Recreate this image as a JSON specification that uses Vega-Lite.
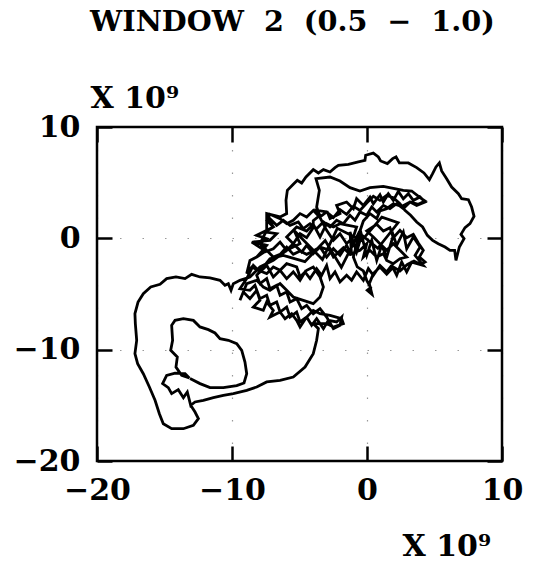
{
  "$schema": "https://vega.github.io/schema/vega-lite/v6.json",
  "width": 405,
  "height": 334,
  "autosize": {"type": "none"},
  "padding": {"left": 97, "top": 127, "right": 32, "bottom": 103},
  "background": "white",
  "title": {
    "text": "WINDOW\u00a0\u00a02\u00a0\u00a0(0.5\u00a0\u00a0\u2212\u00a0\u00a01.0)",
    "anchor": "start",
    "frame": "group",
    "font": "DejaVu Serif",
    "fontSize": 28.7,
    "fontWeight": "bold",
    "color": "black",
    "offset": 46,
    "dx": -7
  },
  "config": {
    "view": {"stroke": "black", "strokeWidth": 2.5},
    "axis": {
      "labelFont": "DejaVu Serif",
      "labelFontSize": 30,
      "labelFontWeight": "bold",
      "labelColor": "black",
      "titleFont": "DejaVu Serif",
      "titleFontSize": 30,
      "titleFontWeight": "bold",
      "titleColor": "black",
      "tickColor": "black",
      "tickWidth": 2.5,
      "tickSize": -15,
      "domain": false,
      "labelFlush": false,
      "labelOverlap": false,
      "labelBound": false
    }
  },
  "data": {
    "values": [
      {"t": 1, "x": -13.11, "y": -12.60}, {"t": 2, "x": -12.37, "y": -13.05}, {"t": 3, "x": -11.63, "y": -13.41}, {"t": 4, "x": -10.64, "y": -13.41}, {"t": 5, "x": -9.65, "y": -13.23}, {"t": 6, "x": -9.11, "y": -12.99}, {"t": 7, "x": -8.91, "y": -12.16}, {"t": 8, "x": -9.04, "y": -11.11}, {"t": 9, "x": -9.28, "y": -10.06}, {"t": 10, "x": -9.65, "y": -9.46},
      {"t": 11, "x": -10.27, "y": -9.16}, {"t": 12, "x": -10.89, "y": -9.01}, {"t": 13, "x": -11.26, "y": -8.50}, {"t": 14, "x": -11.75, "y": -8.20}, {"t": 15, "x": -12.37, "y": -7.96}, {"t": 16, "x": -12.86, "y": -7.37}, {"t": 17, "x": -13.60, "y": -7.22}, {"t": 18, "x": -14.22, "y": -7.37}, {"t": 19, "x": -14.47, "y": -7.81}, {"t": 20, "x": -14.40, "y": -9.16},
      {"t": 21, "x": -14.54, "y": -10.06}, {"t": 22, "x": -14.05, "y": -10.66}, {"t": 23, "x": -14.15, "y": -11.56}, {"t": 24, "x": -13.73, "y": -12.31}, {"t": 25, "x": -13.16, "y": -12.54}, {"t": 26, "x": -13.48, "y": -12.16}, {"t": 27, "x": -14.22, "y": -12.10}, {"t": 28, "x": -14.84, "y": -12.31}, {"t": 29, "x": -15.14, "y": -13.05}, {"t": 30, "x": -14.72, "y": -13.41},
      {"t": 31, "x": -14.47, "y": -13.95}, {"t": 32, "x": -13.98, "y": -13.59}, {"t": 33, "x": -13.60, "y": -14.31}, {"t": 34, "x": -13.31, "y": -13.80}, {"t": 35, "x": -13.06, "y": -15.00},
      {"t": 36, "x": -12.74, "y": -14.70}, {"t": 37, "x": -12.12, "y": -14.55}, {"t": 38, "x": -11.38, "y": -14.31}, {"t": 39, "x": -10.64, "y": -14.10}, {"t": 40, "x": -9.90, "y": -13.95},
      {"t": 41, "x": -8.91, "y": -13.65}, {"t": 42, "x": -8.17, "y": -13.35}, {"t": 43, "x": -7.43, "y": -12.90}, {"t": 44, "x": -6.44, "y": -12.75}, {"t": 45, "x": -5.46, "y": -12.46}, {"t": 46, "x": -4.59, "y": -11.56}, {"t": 47, "x": -3.98, "y": -10.36}, {"t": 48, "x": -3.73, "y": -9.16}, {"t": 49, "x": -3.60, "y": -8.11}, {"t": 50, "x": -3.98, "y": -7.66},
      {"t": 51, "x": -3.48, "y": -7.66}, {"t": 52, "x": -2.99, "y": -7.66}, {"t": 53, "x": -2.49, "y": -7.96}, {"t": 54, "x": -1.75, "y": -7.66}, {"t": 55, "x": -1.88, "y": -7.22}, {"t": 56, "x": -2.74, "y": -6.92}, {"t": 57, "x": -3.48, "y": -6.77}, {"t": 58, "x": -3.98, "y": -6.47}, {"t": 59, "x": -4.47, "y": -7.07}, {"t": 60, "x": -4.96, "y": -7.96},
      {"t": 61, "x": -5.21, "y": -7.37}, {"t": 62, "x": -5.58, "y": -6.77}, {"t": 63, "x": -6.07, "y": -7.22}, {"t": 64, "x": -6.44, "y": -6.62}, {"t": 65, "x": -7.19, "y": -7.07}, {"t": 66, "x": -6.94, "y": -6.47}, {"t": 67, "x": -7.43, "y": -5.72}, {"t": 68, "x": -7.68, "y": -6.47}, {"t": 69, "x": -8.42, "y": -6.17}, {"t": 70, "x": -7.93, "y": -5.57},
      {"t": 71, "x": -8.17, "y": -4.67}, {"t": 72, "x": -8.67, "y": -5.42}, {"t": 73, "x": -9.16, "y": -4.82}, {"t": 74, "x": -9.41, "y": -5.57}, {"t": 75, "x": -8.91, "y": -4.07}, {"t": 76, "x": -8.17, "y": -3.77}, {"t": 77, "x": -7.68, "y": -4.37}, {"t": 78, "x": -7.19, "y": -4.67}, {"t": 79, "x": -6.44, "y": -4.07}, {"t": 80, "x": -5.95, "y": -4.67},
      {"t": 81, "x": -5.46, "y": -5.27}, {"t": 82, "x": -4.72, "y": -5.57}, {"t": 83, "x": -3.98, "y": -5.87}, {"t": 84, "x": -3.48, "y": -5.27}, {"t": 85, "x": -3.23, "y": -4.37}, {"t": 86, "x": -3.48, "y": -3.47}, {"t": 87, "x": -3.98, "y": -2.57}, {"t": 88, "x": -4.47, "y": -2.87}, {"t": 89, "x": -4.96, "y": -3.47}, {"t": 90, "x": -5.21, "y": -2.57},
      {"t": 91, "x": -5.95, "y": -2.28}, {"t": 92, "x": -6.44, "y": -2.87}, {"t": 93, "x": -6.94, "y": -2.57}, {"t": 94, "x": -7.43, "y": -3.17}, {"t": 95, "x": -8.05, "y": -2.87}, {"t": 96, "x": -8.54, "y": -2.57}, {"t": 97, "x": -8.91, "y": -3.17}, {"t": 98, "x": -8.67, "y": -1.98}, {"t": 99, "x": -8.17, "y": -1.68}, {"t": 100, "x": -7.43, "y": -1.08},
      {"t": 101, "x": -7.93, "y": -0.48}, {"t": 102, "x": -7.43, "y": 0.72}, {"t": 103, "x": -7.43, "y": 2.22}, {"t": 104, "x": -6.44, "y": 1.92}, {"t": 105, "x": -5.95, "y": 2.22}, {"t": 106, "x": -6.00, "y": 3.41}, {"t": 107, "x": -5.90, "y": 4.31}, {"t": 108, "x": -5.46, "y": 4.85}, {"t": 109, "x": -5.16, "y": 5.21}, {"t": 110, "x": -4.84, "y": 4.97},
      {"t": 111, "x": -4.52, "y": 5.51}, {"t": 112, "x": -3.98, "y": 6.17}, {"t": 113, "x": -3.60, "y": 5.87}, {"t": 114, "x": -3.23, "y": 6.17}, {"t": 115, "x": -2.74, "y": 5.96}, {"t": 116, "x": -2.37, "y": 6.35}, {"t": 117, "x": -2.12, "y": 6.56}, {"t": 118, "x": -1.38, "y": 6.65}, {"t": 119, "x": -0.64, "y": 6.86}, {"t": 120, "x": -0.15, "y": 7.01},
      {"t": 121, "x": -0.10, "y": 7.46}, {"t": 122, "x": 0.47, "y": 7.66}, {"t": 123, "x": 0.84, "y": 7.31}, {"t": 124, "x": 1.01, "y": 6.95}, {"t": 125, "x": 1.51, "y": 6.71}, {"t": 126, "x": 1.90, "y": 7.16}, {"t": 127, "x": 2.15, "y": 7.31}, {"t": 128, "x": 2.40, "y": 6.77}, {"t": 129, "x": 3.06, "y": 6.77}, {"t": 130, "x": 3.68, "y": 6.35},
      {"t": 131, "x": 4.22, "y": 5.87}, {"t": 132, "x": 4.62, "y": 5.27}, {"t": 133, "x": 4.86, "y": 5.81}, {"t": 134, "x": 5.11, "y": 6.41}, {"t": 135, "x": 5.36, "y": 6.77}, {"t": 136, "x": 5.53, "y": 6.05}, {"t": 137, "x": 5.90, "y": 5.36}, {"t": 138, "x": 6.27, "y": 4.61}, {"t": 139, "x": 6.77, "y": 4.01}, {"t": 140, "x": 7.01, "y": 3.56},
      {"t": 141, "x": 7.51, "y": 3.47}, {"t": 142, "x": 7.75, "y": 2.81}, {"t": 143, "x": 7.93, "y": 1.98}, {"t": 144, "x": 7.63, "y": 1.32}, {"t": 145, "x": 7.26, "y": 0.96}, {"t": 146, "x": 6.96, "y": 0.36}, {"t": 147, "x": 7.19, "y": -0.03}, {"t": 148, "x": 6.84, "y": -0.78}, {"t": 149, "x": 6.59, "y": -1.98}, {"t": 150, "x": 6.49, "y": -1.08},
      {"t": 151, "x": 6.15, "y": -1.08}, {"t": 152, "x": 5.78, "y": -0.78}, {"t": 153, "x": 5.28, "y": -0.48}, {"t": 154, "x": 4.86, "y": -0.18}, {"t": 155, "x": 4.47, "y": 0.27}, {"t": 156, "x": 4.12, "y": 1.02}, {"t": 157, "x": 3.68, "y": 1.47}, {"t": 158, "x": 3.23, "y": 2.07}, {"t": 159, "x": 2.81, "y": 2.51}, {"t": 160, "x": 2.44, "y": 3.11},
      {"t": 161, "x": 1.95, "y": 3.65}, {"t": 162, "x": 1.46, "y": 3.86}, {"t": 163, "x": 0.96, "y": 3.41}, {"t": 164, "x": 0.47, "y": 3.77}, {"t": 165, "x": -0.02, "y": 3.17}, {"t": 166, "x": -0.52, "y": 2.51}, {"t": 167, "x": -1.01, "y": 2.87}, {"t": 168, "x": -1.51, "y": 2.16}, {"t": 169, "x": -2.00, "y": 2.57}, {"t": 170, "x": -2.49, "y": 1.86},
      {"t": 171, "x": -2.99, "y": 2.37}, {"t": 172, "x": -3.48, "y": 1.92}, {"t": 173, "x": -3.73, "y": 2.81}, {"t": 174, "x": -3.53, "y": 4.31}, {"t": 175, "x": -3.78, "y": 5.36}, {"t": 176, "x": -2.74, "y": 5.51}, {"t": 177, "x": -2.00, "y": 5.15}, {"t": 178, "x": -1.26, "y": 4.55}, {"t": 179, "x": -0.52, "y": 4.25}, {"t": 180, "x": 0.22, "y": 4.55},
      {"t": 181, "x": 1.21, "y": 4.67}, {"t": 182, "x": 1.95, "y": 4.49}, {"t": 183, "x": 2.69, "y": 4.31}, {"t": 184, "x": 3.31, "y": 4.25}, {"t": 185, "x": 3.93, "y": 3.65}, {"t": 186, "x": 4.30, "y": 3.35}, {"t": 187, "x": 3.80, "y": 3.05}, {"t": 188, "x": 3.19, "y": 3.26}, {"t": 189, "x": 2.57, "y": 2.87}, {"t": 190, "x": 1.95, "y": 3.11},
      {"t": 191, "x": 1.46, "y": 2.66}, {"t": 192, "x": 0.96, "y": 2.46}, {"t": 193, "x": 0.72, "y": 1.77}, {"t": 194, "x": 0.22, "y": 2.22}, {"t": 195, "x": -0.27, "y": 1.56}, {"t": 196, "x": -0.52, "y": 0.66}, {"t": 197, "x": -0.77, "y": -0.54}, {"t": 198, "x": -1.01, "y": -1.68}, {"t": 199, "x": -0.72, "y": -2.57}, {"t": 200, "x": -0.27, "y": -2.93},
      {"t": 201, "x": -0.02, "y": -3.77}, {"t": 202, "x": 0.27, "y": -4.43}, {"t": 203, "x": 0.02, "y": -4.67}, {"t": 204, "x": 0.37, "y": -5.03}, {"t": 205, "x": 0.17, "y": -4.07}, {"t": 206, "x": 0.47, "y": -3.17}, {"t": 207, "x": 0.96, "y": -2.57}, {"t": 208, "x": 1.46, "y": -3.23}, {"t": 209, "x": 1.95, "y": -2.57}, {"t": 210, "x": 2.44, "y": -2.93},
      {"t": 211, "x": 2.99, "y": -2.34}, {"t": 212, "x": 3.48, "y": -2.04}, {"t": 213, "x": 3.98, "y": -2.34}, {"t": 214, "x": 4.30, "y": -2.13}, {"t": 215, "x": 3.88, "y": -1.68}, {"t": 216, "x": 4.17, "y": -1.08}, {"t": 217, "x": 3.80, "y": -0.42}, {"t": 218, "x": 3.43, "y": 0.36}, {"t": 219, "x": 2.94, "y": 0.06}, {"t": 220, "x": 2.44, "y": 0.72},
      {"t": 221, "x": 1.95, "y": 0.06}, {"t": 222, "x": 1.70, "y": 0.96}, {"t": 223, "x": 1.21, "y": 0.66}, {"t": 224, "x": 0.72, "y": 1.26}, {"t": 225, "x": -0.02, "y": 0.66}, {"t": 226, "x": 0.47, "y": 0.12}, {"t": 227, "x": 0.96, "y": -0.48}, {"t": 228, "x": 1.46, "y": -1.08}, {"t": 229, "x": 1.95, "y": -0.48}, {"t": 230, "x": 2.44, "y": -1.08},
      {"t": 231, "x": 2.94, "y": -1.68}, {"t": 232, "x": 2.44, "y": -1.83}, {"t": 233, "x": 1.95, "y": -2.28}, {"t": 234, "x": 1.46, "y": -1.98}, {"t": 235, "x": 1.21, "y": -1.38}, {"t": 236, "x": 0.72, "y": -1.68}, {"t": 237, "x": 0.22, "y": -1.08}, {"t": 238, "x": -0.27, "y": -1.68}, {"t": 239, "x": -0.02, "y": -0.48}, {"t": 240, "x": -0.52, "y": -1.08},
      {"t": 241, "x": -1.26, "y": -1.44}, {"t": 242, "x": -1.75, "y": -0.84}, {"t": 243, "x": -2.49, "y": -1.68}, {"t": 244, "x": -2.74, "y": -1.08}, {"t": 245, "x": -3.48, "y": -0.78}, {"t": 246, "x": -3.98, "y": -1.14}, {"t": 247, "x": -4.47, "y": -1.44}, {"t": 248, "x": -4.96, "y": -1.14}, {"t": 249, "x": -5.46, "y": -1.44}, {"t": 250, "x": -5.95, "y": -0.78},
      {"t": 251, "x": -6.44, "y": -1.44}, {"t": 252, "x": -6.94, "y": -1.68}, {"t": 253, "x": -7.43, "y": -1.08}, {"t": 254, "x": -8.17, "y": -1.68}, {"t": 255, "x": -7.68, "y": -1.02}, {"t": 256, "x": -8.54, "y": -0.33}, {"t": 257, "x": -7.93, "y": -0.48}, {"t": 258, "x": -7.43, "y": -0.03}, {"t": 259, "x": -8.17, "y": 0.27}, {"t": 260, "x": -7.68, "y": 0.57},
      {"t": 261, "x": -6.94, "y": 1.02}, {"t": 262, "x": -7.43, "y": 1.62}, {"t": 263, "x": -7.19, "y": 2.16}, {"t": 264, "x": -6.44, "y": 1.77}, {"t": 265, "x": -5.95, "y": 1.32}, {"t": 266, "x": -5.46, "y": 1.62}, {"t": 267, "x": -4.96, "y": 2.22}, {"t": 268, "x": -4.47, "y": 1.92}, {"t": 269, "x": -3.98, "y": 2.51}, {"t": 270, "x": -3.48, "y": 1.86},
      {"t": 271, "x": -2.99, "y": 0.72}, {"t": 272, "x": -2.49, "y": -0.18}, {"t": 273, "x": -2.00, "y": 0.42}, {"t": 274, "x": -1.51, "y": -0.48}, {"t": 275, "x": -1.01, "y": 0.12}, {"t": 276, "x": -0.77, "y": 1.02}, {"t": 277, "x": -1.38, "y": 1.17}, {"t": 278, "x": -2.00, "y": 1.32}, {"t": 279, "x": -2.49, "y": 1.02}, {"t": 280, "x": -2.99, "y": 1.32},
      {"t": 281, "x": -3.48, "y": 0.12}, {"t": 282, "x": -3.98, "y": 1.26}, {"t": 283, "x": -4.47, "y": 0.66}, {"t": 284, "x": -5.21, "y": 1.02}, {"t": 285, "x": -5.95, "y": 0.12}, {"t": 286, "x": -5.46, "y": -0.48}, {"t": 287, "x": -4.96, "y": 0.42}, {"t": 288, "x": -4.47, "y": 0.06}, {"t": 289, "x": -3.98, "y": 0.96},
      {"t": 290, "x": -3.98, "y": 1.59}, {"t": 291, "x": -3.48, "y": 2.07}, {"t": 292, "x": -3.73, "y": 2.51}, {"t": 293, "x": -2.94, "y": 2.37}, {"t": 294, "x": -2.74, "y": 1.77}, {"t": 295, "x": -2.00, "y": 2.22}, {"t": 296, "x": -2.25, "y": 2.96}, {"t": 297, "x": -1.51, "y": 3.26}, {"t": 298, "x": -1.01, "y": 2.66}, {"t": 299, "x": -0.77, "y": 3.56},
      {"t": 300, "x": -0.27, "y": 2.96}, {"t": 301, "x": 0.22, "y": 3.71}, {"t": 302, "x": 0.47, "y": 3.11}, {"t": 303, "x": 0.96, "y": 3.92}, {"t": 304, "x": 1.21, "y": 3.26}, {"t": 305, "x": 1.58, "y": 4.01}, {"t": 306, "x": 1.95, "y": 3.41}, {"t": 307, "x": 2.32, "y": 4.22}, {"t": 308, "x": 2.69, "y": 3.56}, {"t": 309, "x": 3.06, "y": 4.01},
      {"t": 310, "x": 3.43, "y": 3.41}, {"t": 311, "x": 3.93, "y": 3.71}, {"t": 312, "x": 4.30, "y": 3.26}, {"t": 313, "x": 3.68, "y": 2.96}, {"t": 314, "x": 3.19, "y": 3.26}, {"t": 315, "x": 2.69, "y": 2.66}, {"t": 316, "x": 2.20, "y": 3.11}, {"t": 317, "x": 1.70, "y": 2.66}, {"t": 318, "x": 1.21, "y": 2.96}, {"t": 319, "x": 0.72, "y": 2.37},
      {"t": 320, "x": 0.35, "y": 2.81}, {"t": 321, "x": -0.02, "y": 2.07}, {"t": 322, "x": -0.52, "y": 2.37}, {"t": 323, "x": -0.89, "y": 1.62}, {"t": 324, "x": -1.26, "y": 2.07}, {"t": 325, "x": -1.75, "y": 1.32}, {"t": 326, "x": -2.25, "y": 1.62}, {"t": 327, "x": -2.74, "y": 1.02}, {"t": 328, "x": -3.23, "y": 1.47}, {"t": 329, "x": -3.73, "y": 0.87},
      {"t": 330, "x": -4.22, "y": 1.32}, {"t": 331, "x": -4.72, "y": 0.87}, {"t": 332, "x": -5.09, "y": 1.47}, {"t": 333, "x": -5.70, "y": 1.17}, {"t": 334, "x": -6.20, "y": 1.62}, {"t": 335, "x": -6.69, "y": 1.17}, {"t": 336, "x": -7.19, "y": 1.77}, {"t": 337, "x": -7.43, "y": 2.07}, {"t": 338, "x": -6.94, "y": 1.02}, {"t": 339, "x": -7.56, "y": 0.57},
      {"t": 340, "x": -6.69, "y": 0.42}, {"t": 341, "x": -7.19, "y": -0.18}, {"t": 342, "x": -8.42, "y": -0.33}, {"t": 343, "x": -7.43, "y": -0.63}, {"t": 344, "x": -7.93, "y": -1.38}, {"t": 345, "x": -6.94, "y": -0.93}, {"t": 346, "x": -6.44, "y": -0.33}, {"t": 347, "x": -5.95, "y": -1.08}, {"t": 348, "x": -5.46, "y": -0.48}, {"t": 349, "x": -4.84, "y": -1.23},
      {"t": 350, "x": -4.47, "y": -0.63}, {"t": 351, "x": -3.98, "y": -1.38}, {"t": 352, "x": -3.48, "y": -0.78}, {"t": 353, "x": -2.99, "y": -1.68}, {"t": 354, "x": -2.49, "y": -0.93}, {"t": 355, "x": -2.00, "y": -1.53}, {"t": 356, "x": -1.51, "y": -0.63}, {"t": 357, "x": -1.14, "y": -1.53}, {"t": 358, "x": -1.26, "y": 0.57}, {"t": 359, "x": -0.77, "y": -1.23},
      {"t": 360, "x": -0.40, "y": 0.27}, {"t": 361, "x": -0.02, "y": -1.53}, {"t": 362, "x": 0.35, "y": -0.18}, {"t": 363, "x": 0.72, "y": -1.98}, {"t": 364, "x": 1.09, "y": -0.63}, {"t": 365, "x": 1.46, "y": -1.68}, {"t": 366, "x": 1.95, "y": 0.27}, {"t": 367, "x": 2.20, "y": -0.63}, {"t": 368, "x": 2.69, "y": 0.57}, {"t": 369, "x": 2.94, "y": -0.93},
      {"t": 370, "x": 3.43, "y": 0.12}, {"t": 371, "x": 3.93, "y": -0.78}, {"t": 372, "x": 3.56, "y": -1.53}, {"t": 373, "x": 4.17, "y": -2.43}, {"t": 374, "x": 3.31, "y": -2.13}, {"t": 375, "x": 2.94, "y": -3.02}, {"t": 376, "x": 2.57, "y": -2.13}, {"t": 377, "x": 2.20, "y": -3.32}, {"t": 378, "x": 1.83, "y": -2.43}, {"t": 379, "x": 1.46, "y": -3.02},
      {"t": 380, "x": 0.96, "y": -2.43}, {"t": 381, "x": 0.47, "y": -3.32}, {"t": 382, "x": 0.10, "y": -2.72}, {"t": 383, "x": -0.27, "y": -3.77}, {"t": 384, "x": -0.77, "y": -3.02}, {"t": 385, "x": -1.14, "y": -3.77}, {"t": 386, "x": -1.51, "y": -3.32}, {"t": 387, "x": -2.00, "y": -3.92}, {"t": 388, "x": -2.37, "y": -3.02}, {"t": 389, "x": -2.74, "y": -3.62},
      {"t": 390, "x": -2.99, "y": -2.43}, {"t": 391, "x": -3.36, "y": -3.32}, {"t": 392, "x": -3.73, "y": -2.72}, {"t": 393, "x": -4.22, "y": -3.62}, {"t": 394, "x": -4.59, "y": -3.02}, {"t": 395, "x": -4.96, "y": -3.77}, {"t": 396, "x": -5.46, "y": -3.02}, {"t": 397, "x": -5.95, "y": -3.62}, {"t": 398, "x": -6.44, "y": -2.87}, {"t": 399, "x": -6.94, "y": -3.47},
      {"t": 400, "x": -7.43, "y": -2.43}, {"t": 401, "x": -7.93, "y": -3.02}, {"t": 402, "x": -8.42, "y": -2.43}, {"t": 403, "x": -8.91, "y": -3.62}, {"t": 404, "x": -9.41, "y": -4.52}, {"t": 405, "x": -8.67, "y": -4.67}, {"t": 406, "x": -8.30, "y": -4.22}, {"t": 407, "x": -7.93, "y": -5.42}, {"t": 408, "x": -7.43, "y": -5.12}, {"t": 409, "x": -7.19, "y": -6.02},
      {"t": 410, "x": -6.69, "y": -5.72}, {"t": 411, "x": -6.44, "y": -6.62}, {"t": 412, "x": -5.95, "y": -6.17}, {"t": 413, "x": -5.70, "y": -7.07}, {"t": 414, "x": -5.21, "y": -6.62}, {"t": 415, "x": -4.96, "y": -7.51}, {"t": 416, "x": -4.47, "y": -7.07}, {"t": 417, "x": -4.10, "y": -7.81}, {"t": 418, "x": -3.73, "y": -7.22}, {"t": 419, "x": -3.23, "y": -8.11},
      {"t": 420, "x": -2.86, "y": -7.37}, {"t": 421, "x": -2.25, "y": -7.51}, {"t": 422, "x": -1.88, "y": -7.07}, {"t": 423, "x": -2.00, "y": -7.81}, {"t": 424, "x": -2.49, "y": -8.11}, {"t": 425, "x": -2.99, "y": -7.07}, {"t": 426, "x": -3.48, "y": -6.32}, {"t": 427, "x": -3.98, "y": -6.77}, {"t": 428, "x": -4.47, "y": -6.02}, {"t": 429, "x": -4.84, "y": -6.32},
      {"t": 430, "x": -5.21, "y": -5.42}, {"t": 431, "x": -5.70, "y": -5.72}, {"t": 432, "x": -5.95, "y": -4.82}, {"t": 433, "x": -6.44, "y": -5.12}, {"t": 434, "x": -6.69, "y": -4.22}, {"t": 435, "x": -7.19, "y": -4.52}, {"t": 436, "x": -7.43, "y": -3.62}, {"t": 437, "x": -7.93, "y": -4.07}, {"t": 438, "x": -8.17, "y": -3.32}, {"t": 439, "x": -7.19, "y": -1.83},
      {"t": 440, "x": -6.20, "y": -1.53}, {"t": 441, "x": -4.60, "y": -2.10}, {"t": 442, "x": -3.10, "y": -0.20}, {"t": 443, "x": -1.90, "y": -2.60}, {"t": 444, "x": -0.60, "y": 0.50}, {"t": 445, "x": 0.80, "y": -0.90}, {"t": 446, "x": 2.30, "y": 1.40}, {"t": 447, "x": 1.10, "y": 1.90}, {"t": 448, "x": -0.40, "y": -0.20}, {"t": 449, "x": -2.20, "y": 0.90},
      {"t": 450, "x": -3.30, "y": -1.90}, {"t": 451, "x": -5.40, "y": 0.70},
      {"t": 500, "x": -4.96, "y": -0.48}, {"t": 501, "x": -5.95, "y": -1.08}, {"t": 502, "x": -6.94, "y": -1.98}, {"t": 503, "x": -7.93, "y": -2.57}, {"t": 504, "x": -8.67, "y": -3.47}, {"t": 505, "x": -9.41, "y": -3.77}, {"t": 506, "x": -9.90, "y": -4.07}, {"t": 507, "x": -10.07, "y": -4.67}, {"t": 508, "x": -10.27, "y": -4.07}, {"t": 509, "x": -10.52, "y": -4.22},
      {"t": 510, "x": -10.89, "y": -3.77}, {"t": 511, "x": -11.63, "y": -3.56}, {"t": 512, "x": -12.37, "y": -3.47}, {"t": 513, "x": -12.99, "y": -3.23}, {"t": 514, "x": -13.48, "y": -3.62}, {"t": 515, "x": -14.15, "y": -3.47}, {"t": 516, "x": -14.84, "y": -3.62}, {"t": 517, "x": -15.33, "y": -4.13}, {"t": 518, "x": -16.02, "y": -4.37}, {"t": 519, "x": -16.57, "y": -4.97},
      {"t": 520, "x": -16.96, "y": -5.72}, {"t": 521, "x": -17.19, "y": -6.77}, {"t": 522, "x": -17.16, "y": -7.66}, {"t": 523, "x": -17.06, "y": -9.16}, {"t": 524, "x": -17.19, "y": -10.36}, {"t": 525, "x": -16.99, "y": -11.26}, {"t": 526, "x": -16.57, "y": -12.16}, {"t": 527, "x": -16.12, "y": -13.35}, {"t": 528, "x": -15.70, "y": -14.55}, {"t": 529, "x": -15.38, "y": -15.75},
      {"t": 530, "x": -15.09, "y": -16.65}, {"t": 531, "x": -14.47, "y": -17.10}, {"t": 532, "x": -13.60, "y": -17.10}, {"t": 533, "x": -12.86, "y": -16.80}, {"t": 534, "x": -12.49, "y": -16.20}, {"t": 535, "x": -12.74, "y": -15.60}, {"t": 536, "x": -13.06, "y": -15.00}
    ]
  },
  "resolve": {"axis": {"x": "independent", "y": "independent"}},
  "layer": [
    {
      "mark": {"type": "line", "color": "black", "strokeWidth": 2.8, "clip": true},
      "encoding": {
        "order": {"field": "t", "type": "quantitative"},
        "x": {
          "field": "x", "type": "quantitative",
          "scale": {"domain": [-20, 10], "nice": false, "zero": false},
          "axis": {
            "orient": "bottom", "values": [-20, -10, 0, 10], "labelPadding": 29,
            "grid": true, "gridColor": "black", "gridDash": [1.5, 21], "gridWidth": 1.2, "gridOpacity": 0.4,
            "title": "X 10\u2079", "titleX": 305, "titleY": 94, "titleAlign": "left", "titleBaseline": "alphabetic"
          }
        },
        "y": {
          "field": "y", "type": "quantitative",
          "scale": {"domain": [-20, 10], "nice": false, "zero": false},
          "axis": {
            "orient": "left", "values": [-20, -10, 0, 10], "labelPadding": 32,
            "grid": true, "gridColor": "black", "gridDash": [1.5, 21], "gridWidth": 1.2, "gridOpacity": 0.4,
            "title": "X 10\u2079", "titleAngle": 0, "titleX": -7, "titleY": -20, "titleAlign": "left", "titleBaseline": "alphabetic"
          }
        }
      }
    },
    {
      "mark": {"type": "point", "opacity": 0},
      "encoding": {
        "x": {
          "field": "x", "type": "quantitative",
          "scale": {"domain": [-20, 10], "nice": false, "zero": false},
          "axis": {"orient": "top", "values": [-20, -10, 0, 10], "labels": false, "title": null, "grid": false}
        },
        "y": {
          "field": "y", "type": "quantitative",
          "scale": {"domain": [-20, 10], "nice": false, "zero": false},
          "axis": {"orient": "right", "values": [-20, -10, 0, 10], "labels": false, "title": null, "grid": false}
        }
      }
    }
  ]
}
